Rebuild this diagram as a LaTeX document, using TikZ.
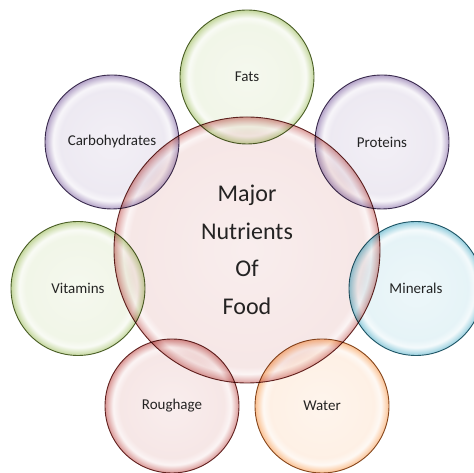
\documentclass[tikz,border=0pt]{standalone}
\usepackage{fontspec}
\setmainfont{Carlito}
\usepackage{tikz}

\definecolor{leaf}{HTML}{9BBB59}
\definecolor{lilac}{HTML}{8064A2}
\definecolor{aqua}{HTML}{4BACC6}
\definecolor{brick}{HTML}{C0504D}
\definecolor{peach}{HTML}{F79646}

% soft bubble: pale inside, light gleam, then a tinted rim (rim sits at 25bp)
\pgfdeclareradialshading[bubblecol]{bubble}{\pgfpoint{0bp}{0bp}}{%
  color(0bp)=(bubblecol!10!white); color(19.5bp)=(bubblecol!14!white);
  color(22bp)=(bubblecol!6!white); color(23.5bp)=(bubblecol!32!white);
  color(25bp)=(bubblecol!60!white); color(50bp)=(bubblecol!60!white)}
% same for the big one, with a thinner rim
\pgfdeclareradialshading[bubblecol]{bigbubble}{\pgfpoint{0bp}{0bp}}{%
  color(0bp)=(bubblecol!10!white); color(22bp)=(bubblecol!14!white);
  color(23.3bp)=(bubblecol!6!white); color(24.2bp)=(bubblecol!30!white);
  color(25bp)=(bubblecol!55!white); color(50bp)=(bubblecol!55!white)}

\begin{document}
\begin{tikzpicture}
  [x=1pt,y=1pt,
   main node/.style={circle,draw=#1!55!black,line width=0.9pt,minimum size=134pt,inner sep=0pt,
     /utils/exec={\colorlet{bubblecol}{#1}},shading=bubble,blend mode=multiply,
     text=black!85,font=\fontsize{15}{18}\selectfont},
   core node/.style={main node=#1,minimum size=266pt,align=center,shading=bigbubble,
     font=\fontsize{24}{37.5}\selectfont}]
  \useasboundingbox (0,0) rectangle (474,473);

\node[core node=brick] (food) at (247,223) {Major\\Nutrients\\Of\\Food};

\node[main node=leaf] (fats) at (247,396) {Fats};
\node[main node=lilac] (carbs) at (112,331) {Carbohydrates};
\node[main node=lilac] (proteins) at (382,331) {Proteins};
\node[main node=leaf] (vitamins) at (78,184.5) {Vitamins};
\node[main node=aqua] (minerals) at (416,184.5) {Minerals};
\node[main node=brick] (roughage) at (172,67) {Roughage};
\node[main node=peach] (water) at (322,67) {Water};

\end{tikzpicture}
\end{document}
